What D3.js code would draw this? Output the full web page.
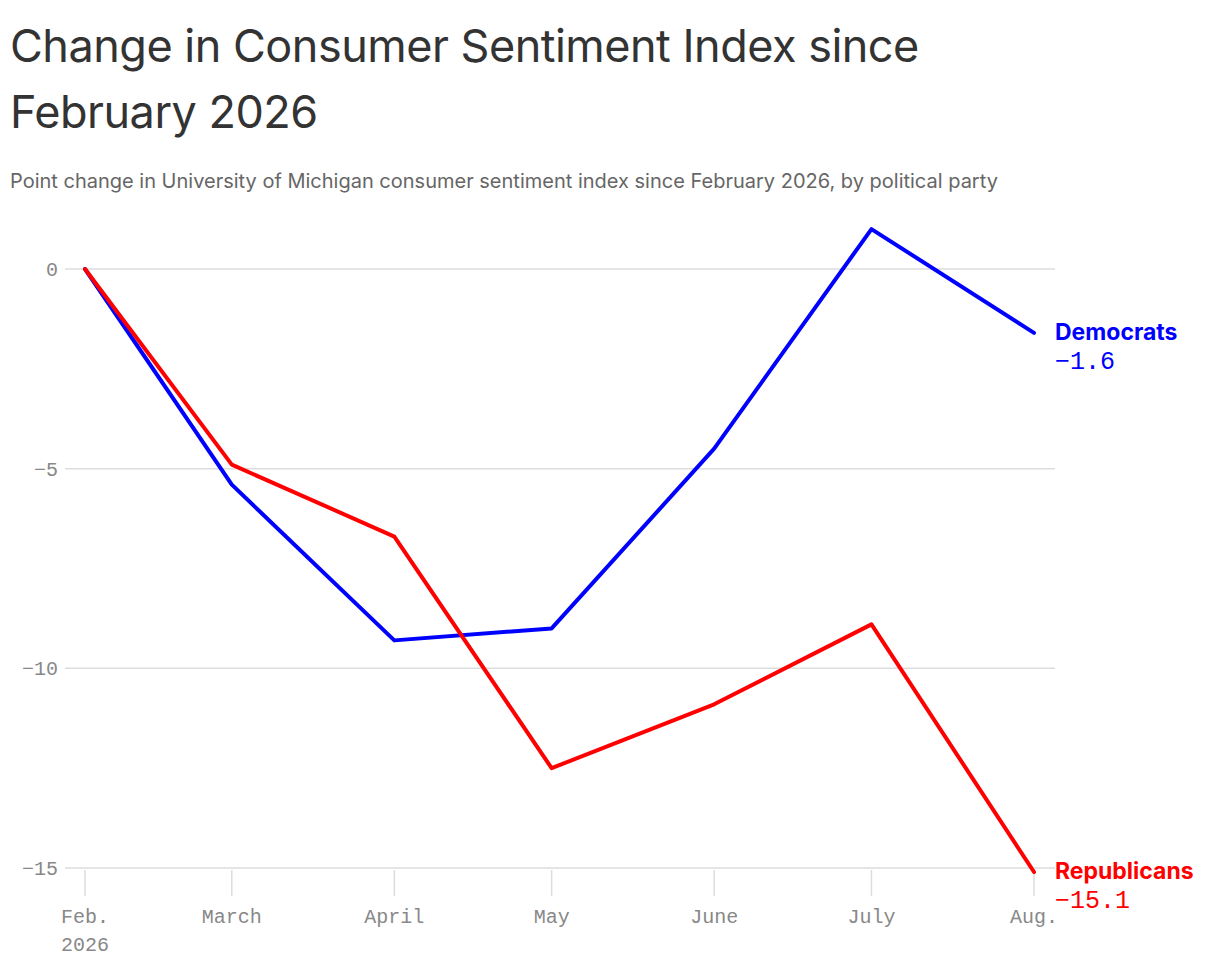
<!DOCTYPE html>
<html><head><meta charset="utf-8">
<script src="https://cdn.jsdelivr.net/npm/d3@7"></script>
<style>
body{margin:0;background:#fff;font-family:Inter,"Noto Sans",sans-serif}
.title{font-size:45px;fill:#333;letter-spacing:-0.5px}
.sub{font-size:20px;fill:#666}
.tick{font-family:"Liberation Mono","DejaVu Sans Mono",monospace;font-size:20px;fill:#888}
</style></head><body>
<script>
var months = ["2026-02-01","2026-03-01","2026-04-01","2026-05-01","2026-06-01","2026-07-01","2026-08-01"];
var monthLabels = ["Feb.","March","April","May","June","July","Aug."];
var democrats = [0, -5.4, -9.3, -9.0, -4.5, 1.0, -1.6];
var republicans = [0, -4.9, -6.7, -12.5, -10.9, -8.9, -15.1];
var yTicks = [0, -5, -10, -15];

var width = 1220, height = 968;
var parse = d3.timeParse("%Y-%m-%d");
var dates = months.map(parse);

var svg = d3.select("body").append("svg").attr("width", width).attr("height", height);

svg.append("text").attr("class","title").attr("x",10).attr("y",62).text("Change in Consumer Sentiment Index since");
svg.append("text").attr("class","title").attr("x",10).attr("y",128).text("February 2026");
svg.append("text").attr("class","sub").attr("x",10).attr("y",188)
  .text("Point change in University of Michigan consumer sentiment index since February 2026, by political party");

var x = d3.scaleTime().domain(d3.extent(dates)).range([85, 1034]);
var y = d3.scaleLinear().domain([0, -15]).range([269, 868]);

// grid
svg.append("g").selectAll("line").data(yTicks).join("line")
  .attr("x1", 65).attr("x2", 1055)
  .attr("y1", d => y(d)).attr("y2", d => y(d))
  .attr("stroke", "#ddd").attr("stroke-width", 1.5);
svg.append("g").selectAll("text").data(yTicks).join("text")
  .attr("class","tick").attr("x", 58).attr("y", d => y(d) + 7)
  .attr("text-anchor","end")
  .text(d => d < 0 ? "\u2212" + Math.abs(d) : d);

// x ticks
svg.append("g").selectAll("line").data(dates).join("line")
  .attr("x1", d => x(d)).attr("x2", d => x(d))
  .attr("y1", 870).attr("y2", 896)
  .attr("stroke", "#ddd").attr("stroke-width", 1.5);
svg.append("g").selectAll("text").data(dates).join("text")
  .attr("class","tick").attr("x", d => x(d)).attr("y", 923)
  .attr("text-anchor","middle")
  .text((d, i) => monthLabels[i]);
svg.append("text").attr("class","tick").attr("x", x(dates[0])).attr("y", 951)
  .attr("text-anchor","middle").text("2026");

var line = d3.line().x((d, i) => x(dates[i])).y(d => y(d));
var series = [
  {name: "Democrats", values: democrats, color: "#0000ff", dy: 0},
  {name: "Republicans", values: republicans, color: "#ff0000", dy: 0}
];
series.forEach(function (s) {
  svg.append("path").attr("d", line(s.values))
    .attr("fill","none").attr("stroke", s.color).attr("stroke-width", 4)
    .attr("stroke-linejoin","round").attr("stroke-linecap","round");
  var last = s.values[s.values.length - 1];
  svg.append("text").attr("x", 1055).attr("y", y(last) + 7)
    .attr("fill", s.color).attr("font-size", 23).attr("font-weight", 700)
    .text(s.name);
  svg.append("text").attr("x", 1055).attr("y", y(last) + 36)
    .attr("fill", s.color).attr("font-size", 25)
    .attr("font-family", "'Liberation Mono','DejaVu Sans Mono',monospace")
    .text("\u2212" + Math.abs(last));
});
</script>
</body></html>
